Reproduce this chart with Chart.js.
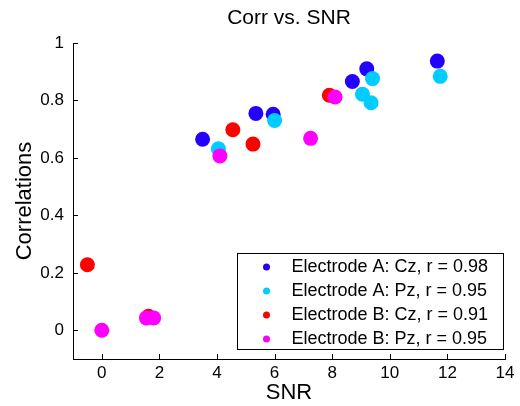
<!DOCTYPE html>
<html>
<head>
<meta charset="utf-8">
<script src="https://cdn.jsdelivr.net/npm/chart.js@4"></script>
<style>
  body { margin: 0; background: #fff; }
  #wrap { width: 520px; height: 406px; }
</style>
</head>
<body>
<div id="wrap"><canvas id="corrChart"></canvas></div>
<script>
const chartTitle = 'Corr vs. SNR';
const seriesNames = ['Electrode A: Cz, r = 0.98', 'Electrode A: Pz, r = 0.95', 'Electrode B: Cz, r = 0.91', 'Electrode B: Pz, r = 0.95'];
const seriesColors = ['#2400FF', '#00CCFF', '#FF0000', '#FF00FF'];

const cz_a_snr = [3.5, 5.35, 5.95, 8.7, 9.2, 11.65];
const cz_a_corr = [0.665, 0.755, 0.752, 0.866, 0.91, 0.937];
const pz_a_snr = [4.05, 6.0, 9.05, 9.4, 9.35, 11.75];
const pz_a_corr = [0.632, 0.73, 0.822, 0.876, 0.792, 0.884];
const cz_b_snr = [-0.5, 1.62, 4.55, 5.25, 7.9];
const cz_b_corr = [0.228, 0.049, 0.698, 0.648, 0.818];
const pz_b_snr = [0.0, 1.55, 1.8, 4.1, 7.25, 8.1];
const pz_b_corr = [0.0, 0.043, 0.043, 0.607, 0.668, 0.812];

const xTicks = [0, 2, 4, 6, 8, 10, 12, 14];
const yTicks = [0, 0.2, 0.4, 0.6, 0.8, 1];

function pts(xs, ys) {
    return xs.map((x, i) => ({x: x, y: ys[i]}));
}

const allX = [cz_a_snr, pz_a_snr, cz_b_snr, pz_b_snr];
const allY = [cz_a_corr, pz_a_corr, cz_b_corr, pz_b_corr];

// matlab style: title over the axes, ticks pointing inward, legend box inside the axes
const matlabBits = {
    id: 'matlabBits',
    afterDraw(chart) {
        const ctx = chart.ctx;
        const area = chart.chartArea;
        const xs = chart.scales.x, ys = chart.scales.y;
        ctx.save();

        ctx.fillStyle = '#000';
        ctx.font = '21px Arial, "Liberation Sans", sans-serif';
        ctx.textAlign = 'center';
        ctx.textBaseline = 'middle';
        ctx.fillText(chartTitle, (area.left + area.right) / 2, 18);

        ctx.strokeStyle = '#000';
        ctx.lineWidth = 1;
        ctx.beginPath();
        xTicks.forEach(v => {
            const px = Math.round(xs.getPixelForValue(v)) + 0.5;
            ctx.moveTo(px, area.bottom);
            ctx.lineTo(px, area.bottom - 5);
        });
        yTicks.forEach(v => {
            const py = Math.round(ys.getPixelForValue(v)) + 0.5;
            ctx.moveTo(area.left, py);
            ctx.lineTo(area.left + 5, py);
        });
        ctx.stroke();

        // legend
        const bx = 237.5, by = 253.5, bw = 266, bh = 96;
        ctx.fillStyle = '#fff';
        ctx.fillRect(bx, by, bw, bh);
        ctx.strokeRect(bx, by, bw, bh);
        ctx.font = '18px Arial, "Liberation Sans", sans-serif';
        ctx.textAlign = 'left';
        ctx.textBaseline = 'middle';
        seriesNames.forEach((name, i) => {
            const cy = by + 13.5 + i * 24;
            ctx.fillStyle = seriesColors[i];
            ctx.beginPath();
            ctx.arc(bx + 29, cy, 3.5, 0, Math.PI * 2);
            ctx.fill();
            ctx.fillStyle = '#000';
            ctx.fillText(name, bx + 54, cy);
        });
        ctx.restore();
    }
};

new Chart(document.getElementById('corrChart'), {
    type: 'scatter',
    data: {
        datasets: seriesNames.map((name, i) => ({
            label: name,
            data: pts(allX[i], allY[i]),
            backgroundColor: seriesColors[i],
            borderColor: seriesColors[i],
            borderWidth: 0,
            pointRadius: 7.5,
            pointHoverRadius: 7.5,
            order: seriesNames.length - 1 - i   // later series on top
        }))
    },
    options: {
        responsive: true,
        maintainAspectRatio: false,
        animation: false,
        layout: { padding: { left: 0, right: 15, top: 43, bottom: 0 } },
        plugins: {
            legend: { display: false },
            tooltip: { enabled: false },
            title: { display: false }
        },
        scales: {
            x: {
                type: 'linear',
                min: -1,
                max: 14,
                afterBuildTicks: s => { s.ticks = xTicks.map(v => ({value: v})); },
                afterFit: s => { s.height = 47; },
                grid: { display: true, drawOnChartArea: false, drawTicks: false, color: '#000' },
                border: { display: true, color: '#000', width: 1 },
                ticks: {
                    color: '#000',
                    padding: 4,
                    maxRotation: 0,
                    font: { family: 'Arial, "Liberation Sans", sans-serif', size: 17 }
                },
                title: {
                    display: true,
                    text: 'SNR',
                    color: '#000',
                    padding: 0,
                    font: { family: 'Arial, "Liberation Sans", sans-serif', size: 22 }
                }
            },
            y: {
                type: 'linear',
                min: -0.1,
                max: 1,
                afterBuildTicks: s => { s.ticks = yTicks.map(v => ({value: v})); },
                afterFit: s => { s.width = 73; },
                grid: { display: true, drawOnChartArea: false, drawTicks: false, color: '#000' },
                border: { display: true, color: '#000', width: 1 },
                ticks: {
                    color: '#000',
                    padding: 9,
                    callback: v => String(Math.round(v * 10) / 10),
                    font: { family: 'Arial, "Liberation Sans", sans-serif', size: 17 }
                },
                title: {
                    display: true,
                    text: 'Correlations',
                    color: '#000',
                    padding: { top: 12, bottom: 0 },
                    font: { family: 'Arial, "Liberation Sans", sans-serif', size: 22 }
                }
            }
        }
    },
    plugins: [matlabBits]
});
</script>
</body>
</html>
